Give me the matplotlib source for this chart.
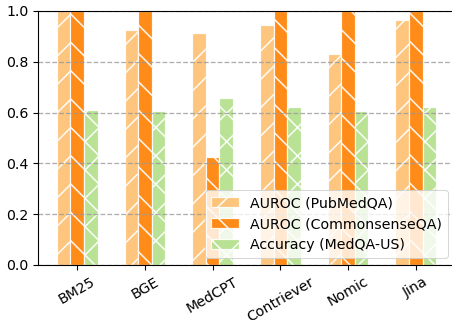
import matplotlib
matplotlib.use("Agg")
import matplotlib.pyplot as plt
import numpy as np

DPI = 170
PX = 72.0 / DPI  # points per pixel

plt.rcParams.update({
    "font.size": 6.0,
    "hatch.color": "white",
    "hatch.linewidth": 1.6 * PX,
    "axes.linewidth": 1.1 * PX,
    "patch.linewidth": 1.0 * PX,
    "xtick.major.size": 4.8 * PX,
    "ytick.major.size": 4.8 * PX,
    "xtick.major.width": 1.1 * PX,
    "ytick.major.width": 1.1 * PX,
    "xtick.major.pad": 4.8 * PX,
    "ytick.major.pad": 4.8 * PX,
})

retrievers = ["BM25", "BGE", "MedCPT", "Contriever", "Nomic", "Jina"]
auroc_pubmedqa = [1.0, 0.925, 0.915, 0.944, 0.829, 0.965]
auroc_commonsenseqa = [1.0, 1.0, 0.426, 1.0, 1.0, 1.0]
accuracy_medqa = [0.610, 0.606, 0.659, 0.623, 0.606, 0.623]

series = [
    ("AUROC (PubMedQA)", auroc_pubmedqa, "#fdbf6f", "//"),
    ("AUROC (CommonsenseQA)", auroc_commonsenseqa, "#ff7f00", "\\\\"),
    ("Accuracy (MedQA-US)", accuracy_medqa, "#b2df8a", "xx"),
]

fig = plt.figure(figsize=(452 / DPI, 320 / DPI), dpi=DPI)
ax = fig.add_axes([38 / 452, 1 - 265 / 320, 417 / 452, 254 / 320])

x = np.arange(len(retrievers))
width = 0.2
for i, (label, vals, color, hatch) in enumerate(series):
    ax.bar(x + (i - 1) * width, vals, width, color=color, edgecolor="white",
           hatch=hatch, alpha=0.9, label=label, linewidth=1.2 * PX)

ax.set_ylim(0, 1.0)
ax.set_xticks(x)
ax.set_xticklabels(retrievers, rotation=30)
ax.yaxis.grid(True, linestyle="--", color="#999999", alpha=0.8, linewidth=1.3 * PX)
ax.legend(loc="lower right")

fig.savefig("out.png", dpi=DPI)
